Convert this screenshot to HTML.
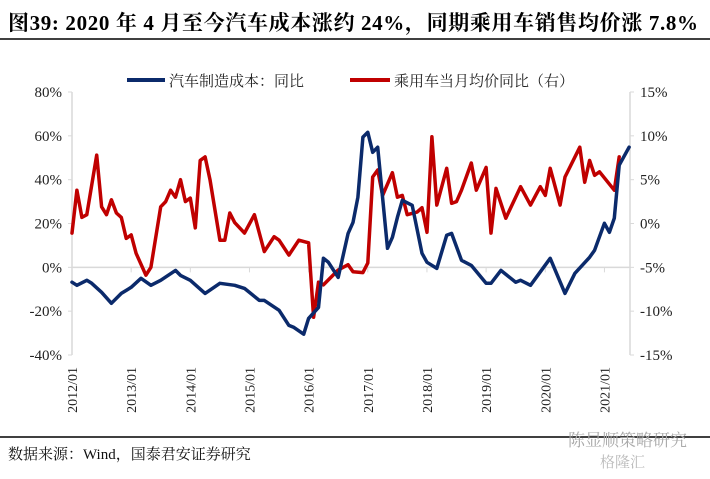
<!DOCTYPE html>
<html><head><meta charset="utf-8"><style>
html,body{margin:0;padding:0;background:#fff;}
body{width:710px;height:474px;overflow:hidden;position:relative;font-family:"Liberation Serif","Noto Serif CJK SC",serif;}
</style></head><body>
<svg width="710" height="474" xmlns="http://www.w3.org/2000/svg">
<text x="8" y="30" font-size="21" font-weight="bold" textLength="690" lengthAdjust="spacing" font-family="Liberation Serif, Noto Serif CJK SC, serif" fill="#000">图39: 2020 年 4 月至今汽车成本涨约 24%，同期乘用车销售均价涨 7.8%</text>
<line x1="0" y1="39" x2="710" y2="39" stroke="#000" stroke-width="1.5"/>
<g id="legend">
<line x1="127" y1="80" x2="165" y2="80" stroke="#0b2a6b" stroke-width="4"/>
<text x="169" y="86" font-size="15" fill="#222">汽车制造成本：同比</text>
<line x1="350" y1="80" x2="390" y2="80" stroke="#c00000" stroke-width="4"/>
<text x="394" y="86" font-size="15" fill="#222">乘用车当月均价同比（右）</text>
</g>
<g id="axes"></g>
<g id="series"></g>
<line x1="0" y1="437" x2="710" y2="437" stroke="#000" stroke-width="1.5"/>
<text x="8" y="459" font-size="15" fill="#111">数据来源：Wind，国泰君安证券研究</text>
<text x="568" y="446" font-size="17" fill="#aaa">陈显顺策略研究</text>
<text x="600" y="467" font-size="15" fill="#bbb">格隆汇</text>
</svg>
<script>
const leftTicks=[80,60,40,20,0,-20,-40];
const rightTicks=[15,10,5,0,-5,-10,-15];
const xLabels=["2012/01","2013/01","2014/01","2015/01","2016/01","2017/01","2018/01","2019/01","2020/01","2021/01"];
const costMonths=[0,1,3,4,6,8,10,12,14,16,18,21,22,24,27,30,33,35,38,39,42,44,45,47,48,50,51,52,54,56,57,58,59,60,61,62,64,65,66,67,69,71,72,74,76,77,79,81,84,85,87,90,91,93,97,100,102,105,106,108,109,110,111,113];
const costValues=[-6.8,-8.2,-5.9,-7.3,-11.4,-16.4,-11.9,-9.1,-5,-8.2,-5.9,-1.4,-3.7,-5.9,-11.9,-7.3,-8.2,-9.6,-15.1,-15.1,-19.6,-26.5,-27.4,-30.5,-23.3,-18.3,4.1,2.3,-4.6,15.5,20.5,32,59.4,61.6,52.5,54.8,8.7,13.7,22.8,30.6,28.3,6.4,2.3,-0.5,14.6,15.5,3.2,0.9,-7.3,-7.3,-1.4,-6.8,-5.9,-8.2,4.1,-11.9,-2.7,4.6,7.8,20.1,16,22.4,46.6,54.8];
const priceMonths=[0,1,2,3,5,6,7,8,9,10,11,12,13,15,16,18,19,20,21,22,23,24,25,26,27,28,30,31,32,33,35,37,39,41,42,44,46,48,49,50,51,54,56,57,59,60,61,62,63,65,66,67,68,70,71,72,73,74,76,77,78,79,81,82,84,85,86,88,91,93,95,96,97,99,100,103,104,105,106,107,110,111];
const priceValues=[-1.1,3.8,0.7,1,7.8,1.9,1,2.7,1.2,0.7,-1.7,-1.3,-3.4,-5.9,-5,1.9,2.5,3.8,3,5,2.5,2.9,-0.5,7.2,7.6,5,-1.9,-1.9,1.2,0.1,-1.1,1,-3.2,-1.5,-1.9,-3.6,-1.9,-2.2,-10.7,-6.7,-7,-5.3,-4.7,-5.5,-5.6,-4.5,5.3,6.1,3.2,5.8,3,3.2,1,1.3,1.8,-1,9.9,2.1,6.3,2.3,2.5,3.8,6.9,3.8,6.4,-1.1,4,0.6,4.2,2.1,4.2,3.2,6.3,2.1,5.3,8.7,4.7,7.2,5.5,5.9,3.8,7.6];
const NS="http://www.w3.org/2000/svg";
const X0=72,X1=630,Y0=92,Y1=355;
const xS=m=>X0+m*4.93;
const yL=v=>Y0+(80-v)/120*(Y1-Y0);
const yR=v=>Y0+(15-v)/30*(Y1-Y0);
const ax=document.getElementById('axes'),se=document.getElementById('series');
function mk(t,a,p){const e=document.createElementNS(NS,t);for(const k in a)e.setAttribute(k,a[k]);p.appendChild(e);return e;}
const ll=mk('line',{x1:X0,y1:Y0,x2:X0,y2:Y1,stroke:'#d9d9d9','stroke-width':1.5},ax);


const rl=mk('line',{x1:X1,y1:Y0,x2:X1,y2:Y1,stroke:'#d9d9d9','stroke-width':1.5},ax);


const zl=mk('line',{x1:X0,y1:yL(0),x2:X1,y2:yL(0),stroke:'#d9d9d9','stroke-width':1.5},ax);


leftTicks.forEach(v=>{const y=yL(v);
 mk('line',{x1:X0-4,y1:y,x2:X0,y2:y,stroke:'#d9d9d9'},ax);
 const t=mk('text',{x:X0-10,y:y+5,'font-size':15,'text-anchor':'end',fill:'#222'},ax);t.textContent=v+'%';
 
 });
rightTicks.forEach(v=>{const y=yR(v);
 mk('line',{x1:X1,y1:y,x2:X1+4,y2:y,stroke:'#d9d9d9'},ax);
 const t=mk('text',{x:X1+10,y:y+5,'font-size':15,fill:'#222'},ax);t.textContent=v+'%';
 
 });
xLabels.forEach((s,i)=>{const x=xS(i*12);
 mk('line',{x1:x,y1:yL(0),x2:x,y2:yL(0)+5,stroke:'#d9d9d9'},ax);
 const t=mk('text',{x:0,y:0,'font-size':14,'text-anchor':'end',fill:'#222',transform:`translate(${x+5},${Y1+12}) rotate(-90)`},ax);t.textContent=s;
 
 });
const pp=costMonths.map((m,i)=>xS(m).toFixed(1)+','+yL(costValues[i]).toFixed(1)).join(' ');
const rp=priceMonths.map((m,i)=>xS(m).toFixed(1)+','+yR(priceValues[i]).toFixed(1)).join(' ');
const red=mk('polyline',{points:rp,fill:'none',stroke:'#c00000','stroke-width':3.5,'stroke-linejoin':'round','stroke-linecap':'round'},se);


const blue=mk('polyline',{points:pp,fill:'none',stroke:'#0b2a6b','stroke-width':3.5,'stroke-linejoin':'round','stroke-linecap':'round'},se);


</script>
</body></html>
